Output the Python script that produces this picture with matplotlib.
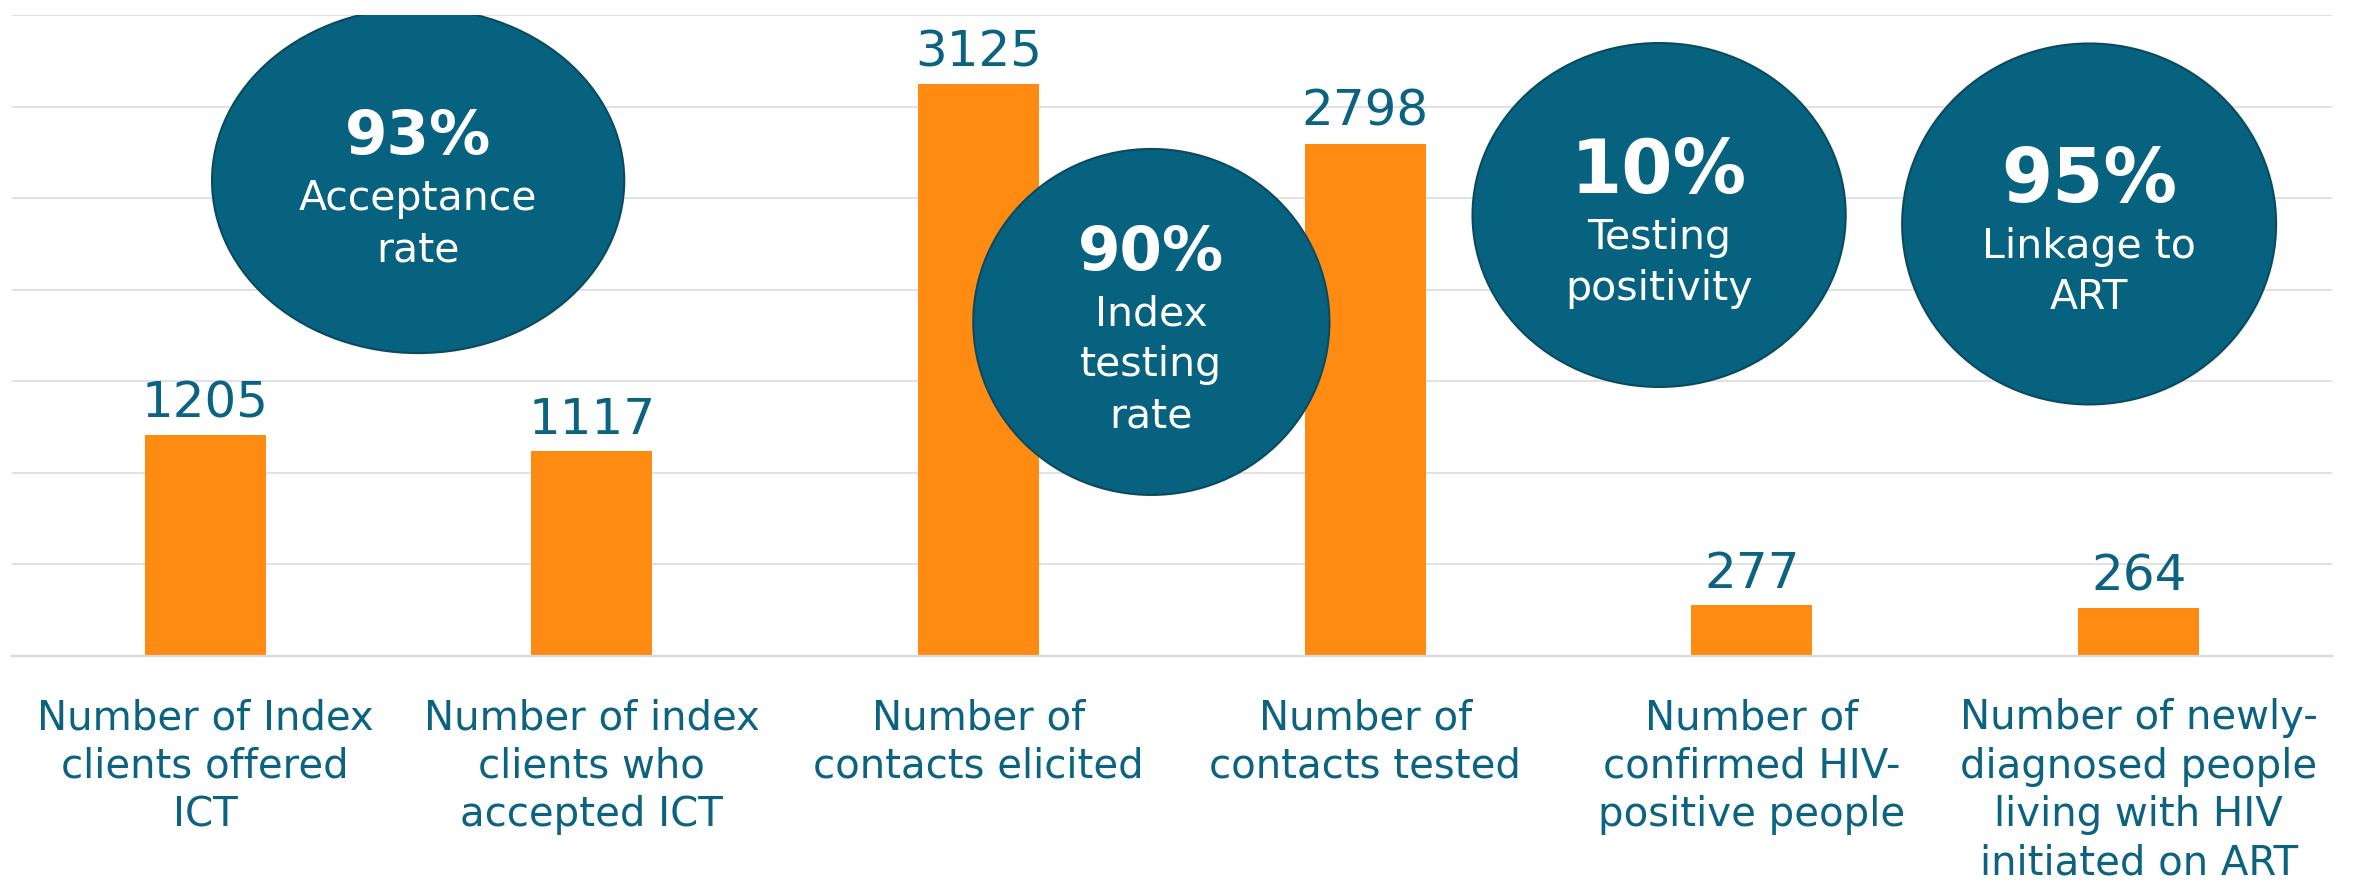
import numpy as np
import matplotlib.pyplot as plt
from matplotlib.patches import Ellipse

# bar data
categories = ["Number of Index\nclients offered\nICT",
              "Number of index\nclients who\naccepted ICT",
              "Number of\ncontacts elicited",
              "Number of\ncontacts tested",
              "Number of\nconfirmed HIV-\npositive people",
              "Number of newly-\ndiagnosed people\nliving with HIV\ninitiated on ART"]
values = [1205, 1117, 3125, 2798, 277, 264]

# callout bubbles
rates = ["93%", "90%", "10%", "95%"]
rate_labels = ["Acceptance\nrate", "Index\ntesting\nrate", "Testing\npositivity", "Linkage to\nART"]

# bubble layout: centre (category units, value units), size, big-number font size
bubble_xy = [(0.551, 2596), (2.447, 1824), (3.760, 2408), (4.872, 2359)]
bubble_wh = [(1.066, 1884), (0.921, 1889), (0.965, 1878), (0.967, 1971)]
pct_size = [44, 44, 53, 53]

teal = "#07627F"
label_col = "#0B6381"
orange = "#FF8B12"
grid_col = "#D9D9D9"

plt.rcParams["font.family"] = ["DejaVu Sans"]

fig = plt.figure(figsize=(23.59, 8.88), dpi=100)
ax = fig.add_axes([0.00496, 0.26126, 0.98359, 0.72185])

x = np.arange(len(values))
bars = ax.bar(x, values, width=0.313, color=orange, zorder=2)
ax.bar_label(bars, labels=[str(v) for v in values], padding=5.5,
             fontsize=36, color=label_col)

ax.set_xlim(-0.5, len(values) - 0.5)
ax.set_ylim(0, 3500)
ax.set_yticks(np.arange(0, 3501, 500))
ax.yaxis.grid(True, color=grid_col, linewidth=1.1, zorder=0)
ax.set_axisbelow(True)
for s in ["top", "right", "left"]:
    ax.spines[s].set_visible(False)
ax.spines["bottom"].set_color(grid_col)
ax.spines["bottom"].set_linewidth(1.6)
ax.tick_params(left=False, labelleft=False, bottom=False, pad=27)
ax.set_xticks(x)
ax.set_xticklabels(categories, fontsize=29, color=label_col,
                   linespacing=1.27, va="top", ha="center")

sub_fs = 29.5
sub_asc = sub_fs * 100 / 72 * 0.76  # px from first baseline up to text box top
for (cx, cy), (w, h), pct, sub, fs in zip(bubble_xy, bubble_wh, rates, rate_labels, pct_size):
    ax.add_patch(Ellipse((cx, cy), w, h, facecolor=teal, edgecolor="#0A4A5F",
                         linewidth=1.5, zorder=3))
    n = sub.count("\n") + 1
    cap = fs * 100 / 72 * 0.729
    # baseline of the big number, pixels below the centre
    yp = 5.5 - (56 + 52 * (n - 1) - cap) / 2
    ax.annotate(pct, (cx, cy), xytext=(0, -yp), textcoords="offset pixels",
                ha="center", va="baseline", fontsize=fs, fontweight="bold",
                color="white", zorder=4)
    ax.annotate(sub, (cx, cy), xytext=(0, -(yp + 56 - sub_asc)), textcoords="offset pixels",
                ha="center", va="top", fontsize=sub_fs, color="white",
                linespacing=1.35, zorder=4)

fig.savefig("out.png", dpi=100)
